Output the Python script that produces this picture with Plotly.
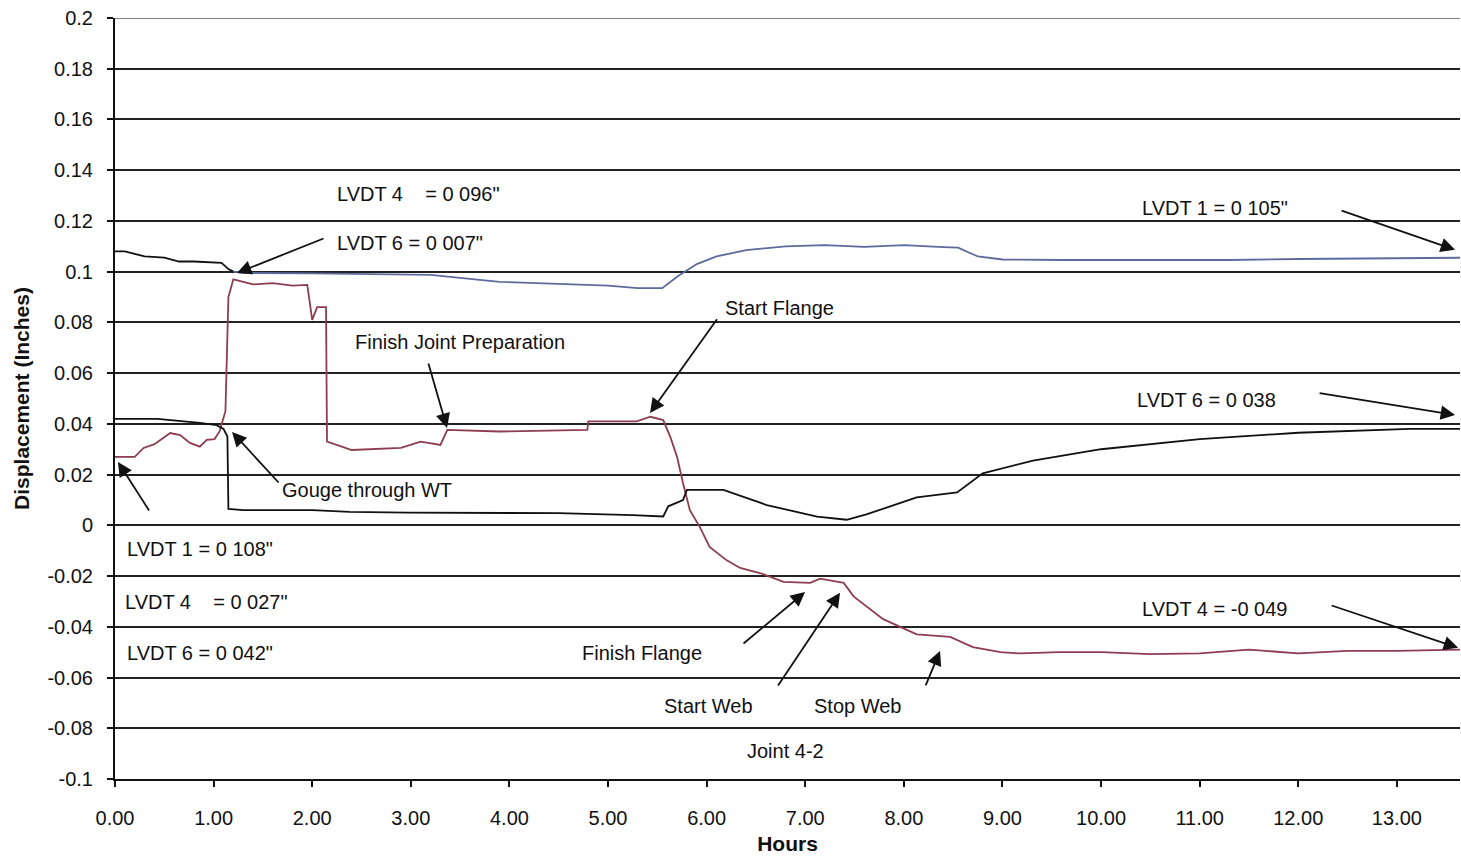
import plotly.graph_objects as go

# ---------------- data ----------------
lvdt1_t = [0, 0.1, 0.25, 0.3, 0.5, 0.65, 0.8, 1.0, 1.08, 1.15, 1.2,
           1.3, 2.0, 3.2, 3.9, 4.3, 5.0, 5.3, 5.55, 5.7, 5.9, 6.1, 6.4, 6.8, 7.2,
           7.6, 8.0, 8.4, 8.55, 8.75, 9.0, 9.6, 10.5, 11.3, 12.0, 13.0, 13.65]
lvdt1_v = [0.108, 0.108, 0.1065, 0.106, 0.1055, 0.104, 0.104, 0.1035, 0.1035, 0.101, 0.100,
           0.0995, 0.0993, 0.0987, 0.096, 0.0955, 0.0945, 0.0935, 0.0935, 0.098, 0.103, 0.106,
           0.1085, 0.110, 0.1105, 0.1098, 0.1105, 0.1097, 0.1095, 0.106, 0.1048, 0.1046,
           0.1046, 0.1046, 0.105, 0.1054, 0.1055]
lvdt1_split = 11  # first part of LVDT 1 drawn in black

lvdt4_t = [0, 0.2, 0.29, 0.4, 0.56, 0.66, 0.76, 0.86, 0.93, 1.01, 1.06, 1.12, 1.15, 1.2,
           1.4, 1.6, 1.8, 1.95, 2.0, 2.05, 2.14, 2.15, 2.3, 2.4, 2.9, 3.1, 3.3, 3.37, 3.9,
           4.5, 4.79, 4.8, 5.29, 5.43, 5.56, 5.63, 5.7, 5.76, 5.83, 5.93, 6.03, 6.2, 6.34,
           6.54, 6.78, 7.05, 7.15, 7.39, 7.49, 7.79, 8.13, 8.47, 8.7, 8.98, 9.18, 9.58,
           10.0, 10.5, 11.0, 11.5, 12.0, 12.5, 13.0, 13.65]
lvdt4_v = [0.027, 0.027, 0.0305, 0.032, 0.0364, 0.0356, 0.0325, 0.031, 0.0337, 0.034, 0.037,
           0.045, 0.09, 0.097, 0.095, 0.0955, 0.0945, 0.0948, 0.081, 0.086, 0.086, 0.033,
           0.031, 0.0297, 0.0305, 0.033, 0.0317, 0.0376, 0.037, 0.0375, 0.0376, 0.041, 0.041,
           0.0428, 0.0415, 0.035, 0.027, 0.0167, 0.006, -0.0006, -0.0085, -0.0137, -0.0168,
           -0.0188, -0.0223, -0.0227, -0.021, -0.0227, -0.028, -0.037, -0.043, -0.044,
           -0.048, -0.050, -0.0505, -0.050, -0.050, -0.0508, -0.0505, -0.049, -0.0505,
           -0.0495, -0.0495, -0.049]

lvdt6_t = [0, 0.43, 0.86, 1.03, 1.1, 1.14, 1.15, 1.3, 2.0, 2.38, 2.96, 3.9, 4.5, 5.25,
           5.56, 5.61, 5.76, 5.8, 6.17, 6.61, 7.12, 7.42, 7.62, 8.13, 8.47, 8.54, 8.8,
           9.31, 10.0, 11.0, 12.0, 13.13, 13.65]
lvdt6_v = [0.042, 0.042, 0.0404, 0.0395, 0.038, 0.035, 0.0065, 0.006, 0.006, 0.0053, 0.005,
           0.005, 0.0048, 0.004, 0.0035, 0.0075, 0.01, 0.014, 0.014, 0.008, 0.0034, 0.0022,
           0.0043, 0.011, 0.0125, 0.013, 0.0205, 0.0255, 0.030, 0.034, 0.0365, 0.038, 0.038]

x_ticks = list(range(0, 14))
x_tick_labels = [f"{v:.2f}" for v in x_ticks]
y_ticks = [0.2, 0.18, 0.16, 0.14, 0.12, 0.1, 0.08, 0.06, 0.04, 0.02, 0,
           -0.02, -0.04, -0.06, -0.08, -0.1]
y_tick_labels = ["0.2", "0.18", "0.16", "0.14", "0.12", "0.1", "0.08", "0.06", "0.04",
                 "0.02", "0", "-0.02", "-0.04", "-0.06", "-0.08", "-0.1"]

NB = "\u00a0"
labels = [
    (f"LVDT 4{NB*4}= 0 096\"", 2.231, 0.1306),
    ("LVDT 6 = 0 007\"", 2.231, 0.1113),
    ("LVDT 1 = 0 105\"", 10.395, 0.1251),
    ("Start Flange", 6.166, 0.0857),
    ("Finish Joint Preparation", 2.414, 0.0723),
    ("LVDT 6 = 0 038", 10.345, 0.0494),
    ("Gouge through WT", 1.673, 0.0140),
    ("LVDT 1 = 0 108\"", 0.101, -0.0093),
    (f"LVDT 4{NB*4}= 0 027\"", 0.081, -0.0302),
    ("LVDT 6 = 0 042\"", 0.101, -0.0503),
    ("LVDT 4 = -0 049", 10.395, -0.0330),
    ("Finish Flange", 4.716, -0.0503),
    ("Start Web", 5.548, -0.0712),
    ("Stop Web", 7.069, -0.0712),
    ("Joint 4-2", 6.389, -0.0889),
]
# (tail_x, tail_y, head_x, head_y)
arrows = [
    (2.130, 0.1133, 1.237, 0.0995),
    (12.424, 0.1243, 13.590, 0.1086),
    (6.116, 0.0818, 5.426, 0.0443),
    (3.174, 0.0644, 3.367, 0.0384),
    (12.201, 0.0522, 13.590, 0.0435),
    (1.673, 0.0163, 1.187, 0.0368),
    (0.355, 0.0053, 0.030, 0.0250),
    (12.323, -0.0314, 13.621, -0.0483),
    (6.359, -0.0471, 6.998, -0.0263),
    (6.714, -0.0637, 7.353, -0.0266),
    (8.215, -0.0637, 8.367, -0.0495),
]

FONT = "Liberation Sans, Arial, sans-serif"

fig = go.Figure()
fig.add_trace(go.Scatter(x=lvdt1_t[:lvdt1_split], y=lvdt1_v[:lvdt1_split], mode="lines",
                         line=dict(color="#111111", width=1.8), name="LVDT 1", showlegend=False))
fig.add_trace(go.Scatter(x=lvdt1_t[lvdt1_split - 1:], y=lvdt1_v[lvdt1_split - 1:], mode="lines",
                         line=dict(color="#5c6b9c", width=1.8), name="LVDT 1", showlegend=False))
fig.add_trace(go.Scatter(x=lvdt4_t, y=lvdt4_v, mode="lines",
                         line=dict(color="#8e3d50", width=1.8), name="LVDT 4", showlegend=False))
fig.add_trace(go.Scatter(x=lvdt6_t, y=lvdt6_v, mode="lines",
                         line=dict(color="#111111", width=1.8), name="LVDT 6", showlegend=False))

annotations = []
for text, x, y in labels:
    annotations.append(dict(text=text, x=x, y=y, xref="x", yref="y", showarrow=False,
                            xanchor="left", yanchor="middle",
                            font=dict(family=FONT, size=20, color="#111111")))
for tx, ty, hx, hy in arrows:
    annotations.append(dict(text="", x=hx, y=hy, ax=tx, ay=ty, xref="x", yref="y",
                            axref="x", ayref="y", showarrow=True, arrowhead=2,
                            arrowsize=1.6, arrowwidth=1.8, arrowcolor="#111111",
                            standoff=0, startstandoff=0))

fig.update_layout(
    width=1461, height=859,
    margin=dict(l=115, r=1, t=18, b=80),
    paper_bgcolor="white", plot_bgcolor="white",
    font=dict(family=FONT, color="#111111"),
    annotations=annotations,
    showlegend=False,
    shapes=[dict(type="line", xref="paper", yref="y", x0=0, x1=1, y0=0.2, y1=0.2,
                 line=dict(color="#555555", width=1.6), layer="below")],
)
fig.update_xaxes(
    range=[0, 13.64], tickvals=x_ticks, ticktext=x_tick_labels,
    showgrid=False, zeroline=False, showline=True, linecolor="#111111", linewidth=2,
    ticks="outside", ticklen=6, tickwidth=2, tickcolor="#111111",
    tickfont=dict(family=FONT, size=20, color="#111111"), ticklabelstandoff=14,
    title=dict(text="<b>Hours</b>", font=dict(family=FONT, size=21, color="#111111"), standoff=8),
)
fig.update_yaxes(
    range=[-0.1, 0.2], tickvals=y_ticks, ticktext=y_tick_labels,
    showgrid=True, gridcolor="#222222", gridwidth=1.6,
    zeroline=False, showline=True, linecolor="#111111", linewidth=2,
    ticks="outside", ticklen=6, tickwidth=2, tickcolor="#111111",
    tickfont=dict(family=FONT, size=20, color="#111111"), ticklabelstandoff=10,
    ticklabeloverflow="allow",
    title=dict(text="<b>Displacement (Inches)</b>", font=dict(family=FONT, size=21, color="#111111"),
               standoff=12),
)

fig.write_html("out.html", config={"displayModeBar": False},
               post_script="document.body.style.margin='0';document.body.style.overflow='hidden';")
